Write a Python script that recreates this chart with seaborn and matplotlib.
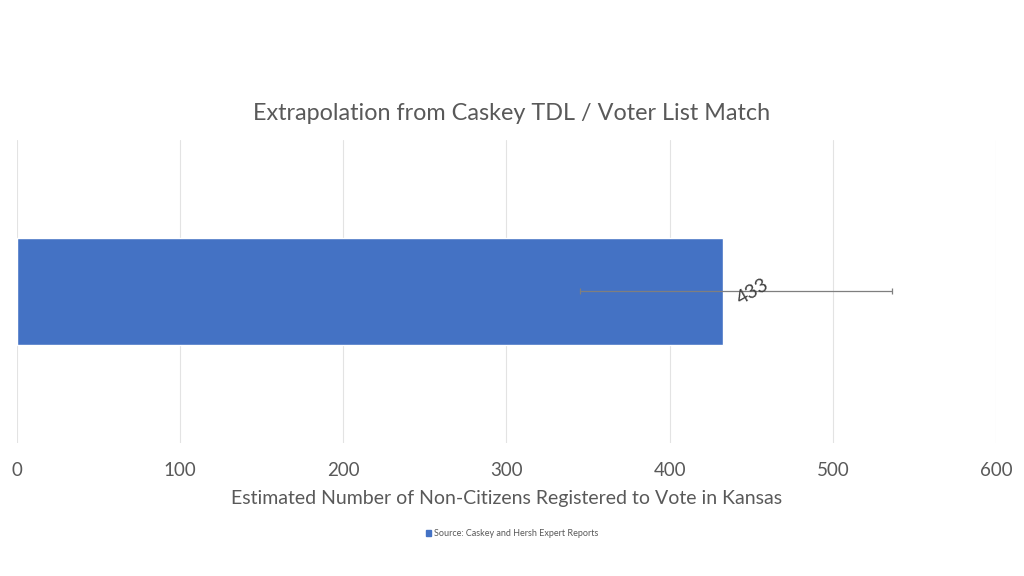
import numpy as np
import pandas as pd
import matplotlib
matplotlib.use("Agg")
import matplotlib.pyplot as plt
import seaborn as sns
from matplotlib.patches import Patch

# data
categories = ["Kansas"]
estimates = [433]
err_low = [88]
err_high = [103]
label_text = ["433"]
legend_label = "Source: Caskey and Hersh Expert Reports"

bar_color = "#4472C4"
text_color = "#595959"

sns.set_theme(style="white")
plt.rcParams["font.family"] = ["Lato", "DejaVu Sans"]

df = pd.DataFrame({"cat": categories, "val": estimates})

fig = plt.figure(figsize=(10.24, 5.76), dpi=100)
ax = fig.add_axes([0.0166, 0.231, 0.956, 0.526])

sns.barplot(data=df, x="val", y="cat", orient="h", color=bar_color,
            width=0.353, saturation=1, ax=ax)

ax.errorbar(estimates, [0], xerr=[err_low, err_high], fmt="none",
            ecolor="#7F7F7F", elinewidth=0.9, capsize=2, capthick=0.9, zorder=3)

for v, t in zip(estimates, label_text):
    ax.text(v + 18, 0.0, t, rotation=30, ha="center", va="center",
            fontsize=14, color="#404040", zorder=4)

ax.set_xlim(0, 600)
ax.set_ylim(0.5, -0.5)
ax.set_xticks(np.arange(0, 601, 100))
ax.grid(axis="x", color="#E3E3E3", linewidth=0.8)
ax.set_axisbelow(True)
for s in ax.spines.values():
    s.set_visible(False)
ax.set_yticks([])
ax.set_ylabel("")
ax.tick_params(axis="x", length=0, labelsize=13.5, labelcolor=text_color, pad=14)
ax.set_xlabel("Estimated Number of Non-Citizens Registered to Vote in Kansas",
              fontsize=14, color=text_color, labelpad=8)

fig.text(0.5, 0.803, "Extrapolation from Caskey TDL / Voter List Match",
         ha="center", va="center", fontsize=16.8, color=text_color)

fig.legend(handles=[Patch(color=bar_color, label=legend_label)],
           loc="center", bbox_to_anchor=(0.5, 0.073), frameon=False,
           fontsize=6.5, handlelength=0.6, handleheight=0.6, handletextpad=0.3,
           labelcolor=text_color)

fig.savefig("out.png", dpi=100)
